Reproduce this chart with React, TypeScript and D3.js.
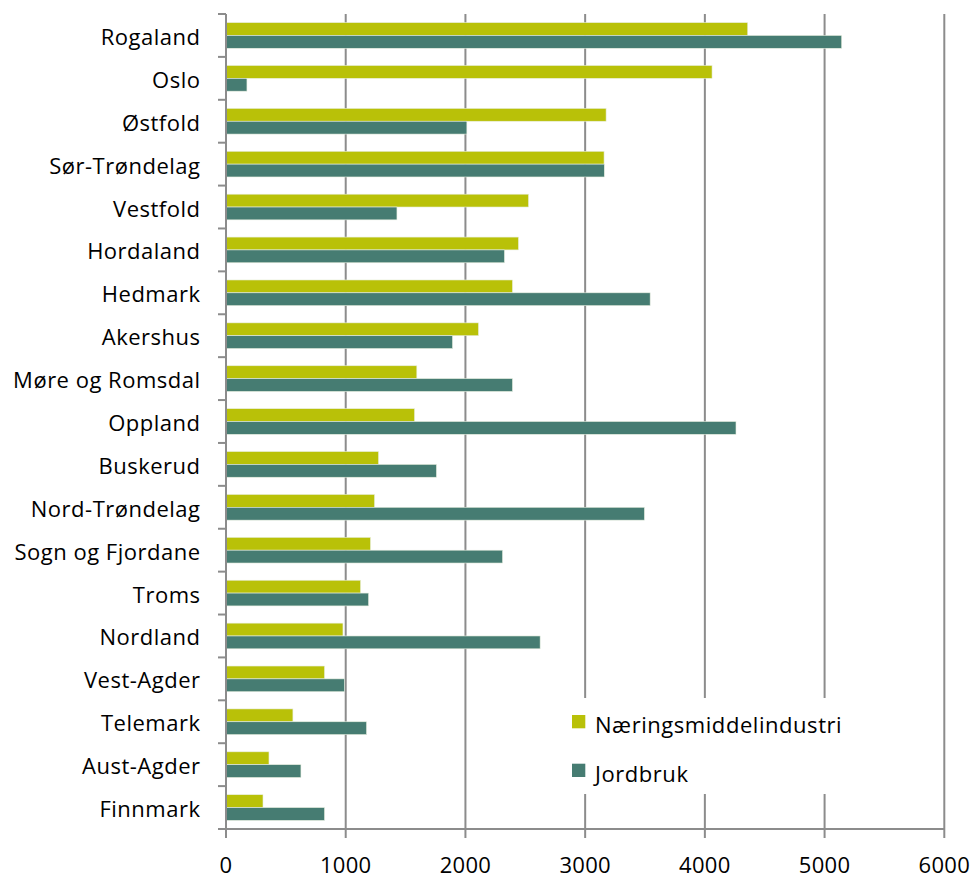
import React from "react";
import * as d3 from "d3";

const categories = [
  "Rogaland", "Oslo", "Østfold", "Sør-Trøndelag", "Vestfold", "Hordaland",
  "Hedmark", "Akershus", "Møre og Romsdal", "Oppland", "Buskerud",
  "Nord-Trøndelag", "Sogn og Fjordane", "Troms", "Nordland", "Vest-Agder",
  "Telemark", "Aust-Agder", "Finnmark",
];
const naeringsmiddel = [
  4358, 4060, 3175, 3158, 2527, 2443, 2393, 2109, 1594, 1575, 1274, 1241,
  1207, 1124, 977, 823, 559, 359, 309,
];
const jordbruk = [
  5143, 175, 2012, 3160, 1428, 2326, 3543, 1892, 2393, 4260, 1758, 3495,
  2310, 1191, 2624, 990, 1174, 626, 823,
];
const seriesNames = ["Næringsmiddelindustri", "Jordbruk"];
const seriesColors = ["#B9C108", "#467C72"];
const xTicks = [0, 1000, 2000, 3000, 4000, 5000, 6000];

const W = 974;
const H = 878;
const left = 226;
const right = 944.3;
const top = 14;
const bottom = 829;
const FONT = "'Open Sans', sans-serif";

export default function App() {
  const x = d3.scaleLinear().domain([0, 6000]).range([left, right]);
  const y = d3.scaleBand<string>().domain(categories).range([top, bottom]).padding(0);
  const inner = d3
    .scaleBand<string>()
    .domain(seriesNames)
    .range([0, y.bandwidth()])
    .paddingInner(0)
    .paddingOuter(0.67);
  const values = [naeringsmiddel, jordbruk];
  const grid = "#8C8C8C";

  return (
    <svg
      width={W}
      height={H}
      style={{ position: "absolute", left: 0, top: 0, background: "#fff" }}
      fontFamily={FONT}
    >
      {xTicks.filter((t) => t > 0).map((t) => (
        <line key={"g" + t} x1={x(t)} x2={x(t)} y1={top} y2={bottom + 9} stroke={grid} strokeWidth={2} />
      ))}
      {categories.map((c, i) => (
        <g key={c} transform={`translate(0,${y(c)})`}>
          {seriesNames.map((s, k) => (
            <rect
              key={s}
              x={x(0)}
              y={inner(s)}
              width={x(values[k][i]) - x(0)}
              height={inner.bandwidth()}
              fill={seriesColors[k]}
              stroke="#e8eee0"
              strokeWidth={0.6}
            />
          ))}
        </g>
      ))}
      <line x1={left} x2={left} y1={top} y2={bottom + 9} stroke={grid} strokeWidth={2} />
      {categories.concat(["__end"]).map((c, i) => {
        const yy = top + i * y.step();
        return <line key={"yt" + i} x1={left - 8} x2={left} y1={yy} y2={yy} stroke={grid} strokeWidth={2} />;
      })}
      <line x1={left - 8} x2={right} y1={bottom} y2={bottom} stroke={grid} strokeWidth={2} />
      {categories.map((c) => (
        <text
          key={"l" + c}
          x={200.5}
          y={(y(c) as number) + y.bandwidth() / 2 + 9.5}
          textAnchor="end"
          fontSize={22}
          letterSpacing={0.5}
          fill="#000"
        >
          {c}
        </text>
      ))}
      {xTicks.map((t) => (
        <text key={"xl" + t} x={x(t)} y={873} textAnchor="middle" fontSize={22} letterSpacing={0.3} fill="#000">
          {t}
        </text>
      ))}
      <rect x={558} y={698} width={330} height={96} fill="#fff" />
      {seriesNames.map((s, k) => (
        <g key={"lg" + s} transform={`translate(572,${715 + k * 48.7})`}>
          <rect x={0} y={0} width={13.3} height={13.3} fill={seriesColors[k]} />
          <text x={23} y={18} fontSize={22} letterSpacing={0.55} fill="#000">
            {s}
          </text>
        </g>
      ))}
    </svg>
  );
}
